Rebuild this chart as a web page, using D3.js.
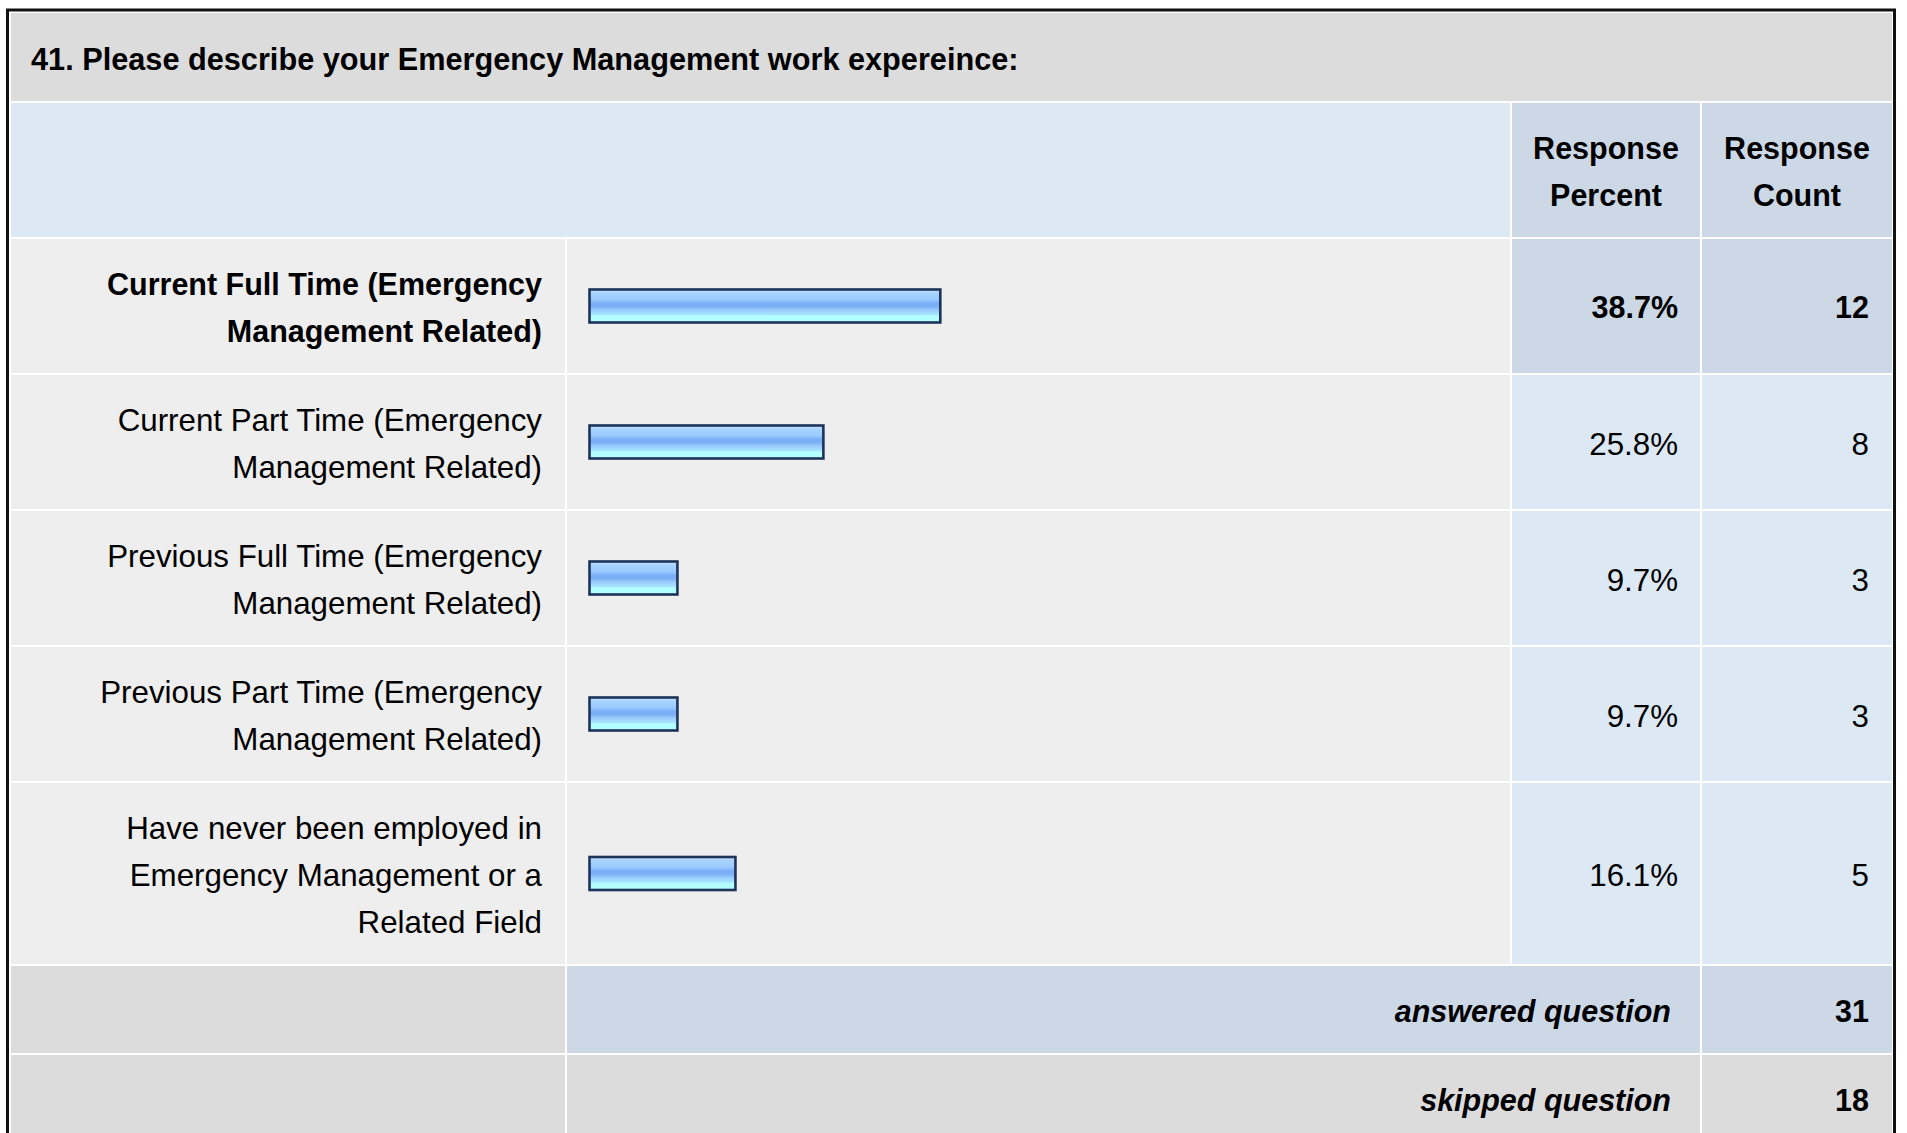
<!DOCTYPE html>
<html>
<head>
<meta charset="utf-8">
<script src="https://cdn.jsdelivr.net/npm/d3@7/dist/d3.min.js"></script>
<style>
  html, body { margin: 0; padding: 0; background: #ffffff; }
  svg { display: block; }
  text { font-family: "Liberation Sans", Arial, Helvetica, sans-serif; fill: #000; }
</style>
</head>
<body>
<svg id="chart" width="1907" height="1133"></svg>
<script>
// Survey question and its answer choices (each choice split into its display lines)
const questionTitle = "41. Please describe your Emergency Management work expereince:";
const categories = [
  ["Current Full Time (Emergency", "Management Related)"],
  ["Current Part Time (Emergency", "Management Related)"],
  ["Previous Full Time (Emergency", "Management Related)"],
  ["Previous Part Time (Emergency", "Management Related)"],
  ["Have never been employed in", "Emergency Management or a", "Related Field"]
];
const responsePercent = [38.7, 25.8, 9.7, 9.7, 16.1];
const responseCount = [12, 8, 3, 3, 5];
const headerLabels = [["Response", "Percent"], ["Response", "Count"]];
const summaryLabels = ["answered question", "skipped question"];
const summaryCounts = [31, 18];

const W = 1907, H = 1133;
const svg = d3.select("#chart");

// Gradient for the glossy response bars
const defs = svg.append("defs");
const grad = defs.append("linearGradient")
  .attr("id", "barGlow").attr("x1", 0).attr("y1", 0).attr("x2", 0).attr("y2", 1);
[
  [0.00, "#d2eaff"], [0.10, "#a9d4ff"], [0.32, "#98c8fd"], [0.42, "#79adf4"],
  [0.53, "#7db2f6"], [0.63, "#9ccdff"], [0.75, "#a6e2ff"], [0.80, "#b3ffff"], [1.00, "#b3ffff"]
].forEach(([o, c]) => grad.append("stop").attr("offset", o).attr("stop-color", c));

// Table grid: column edges and row heights driven by line counts
const colLeft = [11, 567, 1512, 1702];
const colRight = [565, 1510, 1700, 1892];
const lineStep = 47, rowPad = 40, gap = 2;

const rows = [];
rows.push({ kind: "title", lines: 1, pad: 41 });
rows.push({ kind: "header", lines: 2, pad: rowPad });
categories.forEach((c, i) => rows.push({ kind: "data", i, lines: c.length, pad: rowPad }));
summaryLabels.forEach((s, i) => rows.push({ kind: "summary", i, lines: 1, pad: rowPad }));

let yCursor = 13;
rows.forEach(r => {
  r.h = r.lines * lineStep + r.pad;
  r.y0 = yCursor;
  r.y1 = yCursor + r.h;
  r.cy = (r.y0 + r.y1) / 2;
  yCursor = r.y1 + gap;
});

const C = {
  gray: "#dcdcdc", light: "#eeeeee", blue: "#dde8f5", blueDark: "#ccd8e6"
};

const cells = svg.append("g").attr("class", "cells");
function cell(r, c0, c1, fill) {
  cells.append("rect")
    .attr("x", colLeft[c0]).attr("y", r.y0)
    .attr("width", colRight[c1] - colLeft[c0]).attr("height", r.y1 - r.y0)
    .attr("fill", fill);
}

// Baseline for line k of n lines, centred in a row
function baseline(r, k, n, fs) {
  return r.cy + 1.5 + (k - (n - 1) / 2) * lineStep + fs * 0.36;
}

const fsTitle = 30.7, fsBold = 30.5, fsReg = 31.3;
const txt = svg.append("g").attr("class", "labels");

// Bar scale: percent to horizontal position in the bar column
const x = d3.scaleLinear().domain([0, 100]).range([589.5, 1496]);
const barH = 33;
const bars = svg.append("g").attr("class", "bars");

rows.forEach(r => {
  if (r.kind === "title") {
    cell(r, 0, 3, C.gray);
    txt.append("text")
      .attr("x", 31).attr("y", baseline(r, 0, 1, fsTitle))
      .attr("font-size", fsTitle).attr("font-weight", "bold")
      .text(questionTitle);
  } else if (r.kind === "header") {
    cell(r, 0, 1, C.blue);
    cell(r, 2, 2, C.blueDark);
    cell(r, 3, 3, C.blueDark);
    headerLabels.forEach((lines, j) => {
      const col = j + 2;
      const cx = (colLeft[col] + colRight[col]) / 2;
      lines.forEach((ln, k) => {
        txt.append("text")
          .attr("x", cx).attr("y", baseline(r, k, lines.length, fsBold))
          .attr("text-anchor", "middle")
          .attr("font-size", fsBold).attr("font-weight", "bold")
          .text(ln);
      });
    });
  } else if (r.kind === "data") {
    const i = r.i;
    const top = i === 0;
    cell(r, 0, 0, C.light);
    cell(r, 1, 1, C.light);
    cell(r, 2, 2, top ? C.blueDark : C.blue);
    cell(r, 3, 3, top ? C.blueDark : C.blue);
    const fs = top ? fsBold : fsReg;
    const fw = top ? "bold" : "normal";
    const lines = categories[i];
    lines.forEach((ln, k) => {
      txt.append("text")
        .attr("x", 542).attr("y", baseline(r, k, lines.length, fs))
        .attr("text-anchor", "end")
        .attr("font-size", fs).attr("font-weight", fw)
        .text(ln);
    });
    txt.append("text")
      .attr("x", 1678).attr("y", baseline(r, 0, 1, fs))
      .attr("text-anchor", "end").attr("font-size", fs).attr("font-weight", fw)
      .text(responsePercent[i].toFixed(1) + "%");
    txt.append("text")
      .attr("x", 1869).attr("y", baseline(r, 0, 1, fs))
      .attr("text-anchor", "end").attr("font-size", fs).attr("font-weight", fw)
      .text(responseCount[i]);
    bars.append("rect")
      .attr("x", x(0)).attr("y", r.cy - barH / 2)
      .attr("width", x(responsePercent[i]) - x(0)).attr("height", barH)
      .attr("fill", "url(#barGlow)")
      .attr("stroke", "#1d335a").attr("stroke-width", 2.6);
  } else {
    const answered = r.i === 0;
    cell(r, 0, 0, C.gray);
    cell(r, 1, 2, answered ? C.blueDark : C.gray);
    cell(r, 3, 3, answered ? C.blueDark : C.gray);
    txt.append("text")
      .attr("x", 1671).attr("y", baseline(r, 0, 1, fsBold))
      .attr("text-anchor", "end").attr("font-size", fsBold)
      .attr("font-weight", "bold").attr("font-style", "italic")
      .text(summaryLabels[r.i]);
    txt.append("text")
      .attr("x", 1869).attr("y", baseline(r, 0, 1, fsBold))
      .attr("text-anchor", "end").attr("font-size", fsBold).attr("font-weight", "bold")
      .text(summaryCounts[r.i]);
  }
});

// Outer frame around the whole table
svg.append("rect")
  .attr("x", 7.5).attr("y", 10).attr("width", 1887).attr("height", H + 40)
  .attr("fill", "none").attr("stroke", "#111").attr("stroke-width", 3);
</script>
</body>
</html>
